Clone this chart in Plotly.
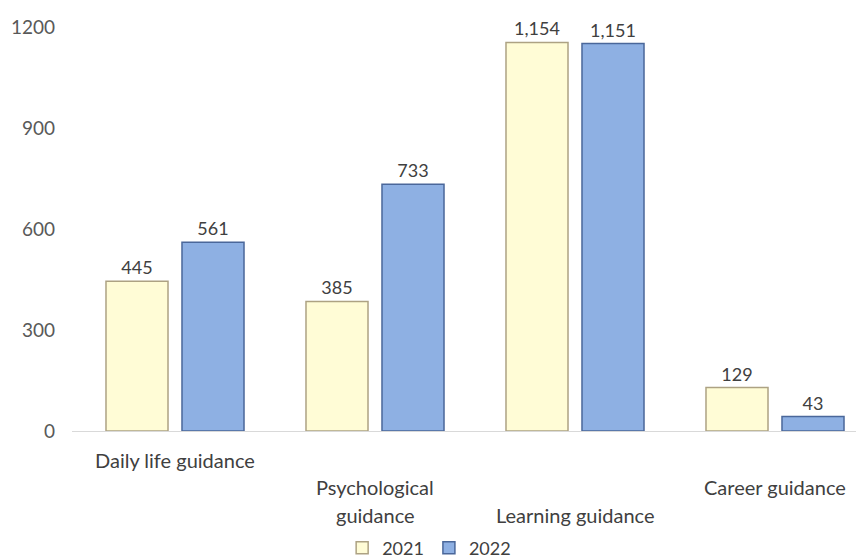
import plotly.graph_objects as go

categories = ["Daily life guidance", "Psychological guidance", "Learning guidance", "Career guidance"]
values_2021 = [445, 385, 1154, 129]
values_2022 = [561, 733, 1151, 43]
y_ticks = [0, 300, 600, 900, 1200]

FONT = "Lato"
x_idx = list(range(len(categories)))

fig = go.Figure()
fig.add_trace(go.Bar(
    name="2021", x=x_idx, y=values_2021,
    marker=dict(color="#FFFCD6", line=dict(color="#ADA283", width=1.5)),
    text=values_2021, texttemplate="%{y:,}", textposition="outside",
    textfont=dict(family=FONT, size=18, color="#404040"), cliponaxis=False,
))
fig.add_trace(go.Bar(
    name="2022", x=x_idx, y=values_2022,
    marker=dict(color="#8EB0E3", line=dict(color="#4A679A", width=1.5)),
    text=values_2022, texttemplate="%{y:,}", textposition="outside",
    textfont=dict(family=FONT, size=18, color="#404040"), cliponaxis=False,
))

# staggered category labels
label_lines = [
    (0, "Daily life guidance", -29),
    (1, "Psychological", -56),
    (1, "guidance", -84),
    (2, "Learning guidance", -84),
    (3, "Career guidance", -56),
]
annotations = [
    dict(x=i, y=0, xref="x", yref="paper", text=t, showarrow=False,
         yanchor="middle", xanchor="center", yshift=s,
         font=dict(family=FONT, size=20, color="#404040"))
    for i, t, s in label_lines
]

fig.update_layout(
    width=856, height=550,
    margin=dict(l=64, r=0, t=19, b=127),
    paper_bgcolor="white", plot_bgcolor="white",
    barmode="group", bargap=0.24, bargroupgap=0.184,
    showlegend=True,
    legend=dict(orientation="h", xref="container", yref="container",
                x=0.492, xanchor="center", y=0.018, yanchor="middle",
                font=dict(family=FONT, size=18, color="#404040"),
                itemwidth=30, traceorder="normal"),
    annotations=annotations,
    font=dict(family=FONT, size=18, color="#595959"),
)
fig.update_xaxes(range=[-0.515, 3.445], showticklabels=False, showgrid=False,
                 showline=True, linecolor="#D9D9D9", linewidth=1, zeroline=False)
fig.update_yaxes(range=[0, 1200], tickvals=y_ticks, ticktext=[str(v) for v in y_ticks],
                 showgrid=False, zeroline=False, showline=False,
                 tickfont=dict(family=FONT, size=19, color="#595959"),
                 ticklabelstandoff=16)

fig.write_html("out.html")
